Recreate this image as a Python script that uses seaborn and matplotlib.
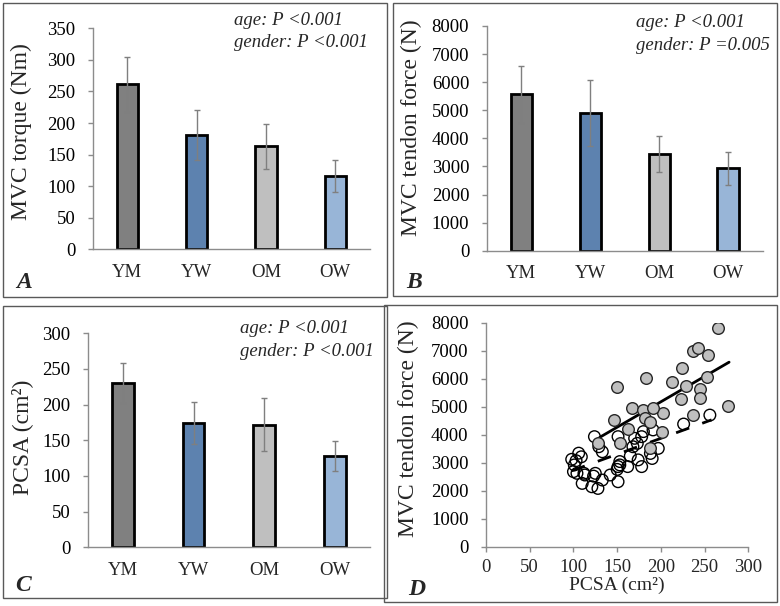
"""
Figure: MVC torque, tendon force, PCSA by group + force vs PCSA scatter
"""
import numpy as np
import pandas as pd
import matplotlib
matplotlib.use('Agg')
import matplotlib.pyplot as plt
import matplotlib.patches as mpatches
import seaborn as sns

sns.set_theme(style='white')
plt.rcParams['font.family'] = ['Liberation Serif', 'DejaVu Serif']

groups = ['YM', 'YW', 'OM', 'OW']
bar_colors = ['#808080', '#4f81bd', '#bfbfbf', '#8db4e2']

torque_mean = [261, 181, 163, 116]
torque_sd = [43, 39, 36, 26]
force_mean = [5570, 4890, 3455, 2935]
force_sd = [1020, 1175, 645, 585]
pcsa_mean = [230, 174, 172, 128]
pcsa_sd = [28, 29, 37, 21]

# scatter (men = filled, women = open)
men_pcsa = [265, 237, 242, 254, 224, 213, 183, 150, 253, 229, 245, 223, 245, 277,
            202, 237, 201, 146, 162, 167, 180, 191, 182, 188, 153, 188, 128]
men_force = [7800, 7000, 7080, 6830, 6370, 5870, 6010, 5700, 6050, 5750, 5620, 5260, 5300, 5020,
             4790, 4720, 4080, 4520, 4210, 4970, 4880, 4960, 4580, 4440, 3700, 3540, 3720]
women_pcsa = [98, 103, 101, 106, 109, 104, 112, 110, 121, 128, 123, 124, 129, 133, 133, 142,
              150, 151, 153, 151, 162, 165, 168, 170, 173, 174, 178, 178, 180, 188, 190, 191,
              197, 226, 256, 100, 113, 125, 151, 153]
women_force = [3120, 3070, 2920, 3340, 3210, 2620, 2620, 2260, 2140, 2080, 2520, 3930, 3570, 3390, 2380, 2560,
               2760, 2320, 2920, 3930, 2860, 3240, 3570, 3870, 3690, 3100, 2860, 3930, 4110, 3330, 3150, 4170,
               3510, 4380, 4700, 2680, 2560, 2620, 2860, 3040]

# regression line end points
men_fit_x = [130, 278]
men_fit_y = [3905, 6590]
women_fit_x = [98, 258]
women_fit_y = [2710, 4530]

stats_text = {'A': ('age: P <0.001', 'gender: P <0.001'),
              'B': ('age: P <0.001', 'gender: P =0.005'),
              'C': ('age: P <0.001', 'gender: P <0.001')}

W, H = 780, 606
fig = plt.figure(figsize=(7.8, 6.06), dpi=100)


def px(x, y):
    return x / W, 1 - y / H


# panel frames (pixels: left, top, right, bottom)
frames = [(3, 3, 387, 297), (393, 3, 777, 296), (3, 306, 387, 598), (384, 305, 777, 602)]
for l, t, r, b in frames:
    fig.patches.append(mpatches.Rectangle(px(l, b), (r - l) / W, (b - t) / H,
                                          transform=fig.transFigure, fill=False,
                                          edgecolor='#595959', linewidth=1))


def style_axes(ax):
    for s in ['top', 'right']:
        ax.spines[s].set_visible(False)
    for s in ['left', 'bottom']:
        ax.spines[s].set_color('#8c8c8c')
        ax.spines[s].set_linewidth(1)
    ax.tick_params(axis='y', which='both', left=True, length=3.6, width=1, color='#8c8c8c',
                   pad=9, labelsize=13.5, labelcolor='black')


def bar_panel(rect, means, sds, ylabel, ymax, ystep, lab_xy):
    ax = fig.add_axes(rect)
    df = pd.DataFrame({'group': groups, 'value': means})
    sns.barplot(data=df, x='group', y='value', hue='group', palette=bar_colors,
                edgecolor='black', linewidth=2, width=0.31, errorbar=None,
                legend=False, ax=ax)
    ax.errorbar(np.arange(4), means, yerr=sds, fmt='none', ecolor='#7f7f7f',
                elinewidth=1, capsize=2.5, capthick=1, zorder=5)
    ax.set_xlim(-0.5, 3.5)
    ax.set_ylim(0, ymax)
    ax.set_yticks(np.arange(0, ymax + 1, ystep))
    ax.set_xlabel('')
    ax.set_ylabel(ylabel, fontsize=17, va='center')
    ax.yaxis.set_label_coords(*lab_xy)
    style_axes(ax)
    ax.tick_params(axis='x', bottom=False, length=0, pad=10.5, labelsize=13.5)
    return ax


axA = bar_panel([0.1188, 0.5886, 0.3555, 0.3647], torque_mean, torque_sd,
                'MVC torque (Nm)', 350, 50, (-0.256, 0.532))
axB = bar_panel([0.624, 0.5863, 0.3538, 0.3708], force_mean, force_sd,
                'MVC tendon force (N)', 8000, 1000, (-0.272, 0.548))
axC = bar_panel([0.1124, 0.0969, 0.3619, 0.3531], pcsa_mean, pcsa_sd,
                'PCSA (cm²)', 300, 50, (-0.234, 0.513))

# p-value notes (left edge, first baseline, second baseline in pixels)
for key, (x0, y1, y2) in {'A': (234, 25, 47), 'B': (636, 27, 50), 'C': (240, 333, 356)}.items():
    for line, yb in zip(stats_text[key], (y1, y2)):
        fig.text(*px(x0, yb), line, fontsize=13.5, style='italic', ha='left', va='baseline')

# panel D
axD = fig.add_axes([0.6231, 0.0979, 0.3363, 0.3696])
sns.lineplot(x=men_fit_x, y=men_fit_y, color='black', linewidth=2, ax=axD, zorder=2)
sns.lineplot(x=women_fit_x, y=women_fit_y, color='black', linewidth=2, ax=axD, zorder=2,
             linestyle=(0, (5, 5)))
sns.scatterplot(x=women_pcsa, y=women_force, s=70, facecolor='none', edgecolor='black',
                linewidth=1, ax=axD, zorder=3)
sns.scatterplot(x=men_pcsa, y=men_force, s=70, color='#bfbfbf', edgecolor='#262626',
                linewidth=1, ax=axD, zorder=4)
axD.set_xlim(0, 300)
axD.set_ylim(0, 8000)
axD.set_xticks(np.arange(0, 301, 50))
axD.set_yticks(np.arange(0, 8001, 1000))
style_axes(axD)
axD.tick_params(axis='x', bottom=True, length=3.6, width=1, color='#8c8c8c', pad=5, labelsize=13.5)
axD.set_xlabel('PCSA (cm²)', fontsize=14, labelpad=1)
axD.set_ylabel('MVC tendon force (N)', fontsize=17, va='center')
axD.yaxis.set_label_coords(-0.294, 0.525)

# panel letters
for (lx, ly), letter in zip([(16, 288), (406, 288), (15, 591), (408, 595)], ['A', 'B', 'C', 'D']):
    fig.text(*px(lx, ly), letter, fontsize=17, fontweight='bold',
             style='italic', ha='left', va='baseline')

plt.savefig('out.png', dpi=100, facecolor='white')
plt.close()
